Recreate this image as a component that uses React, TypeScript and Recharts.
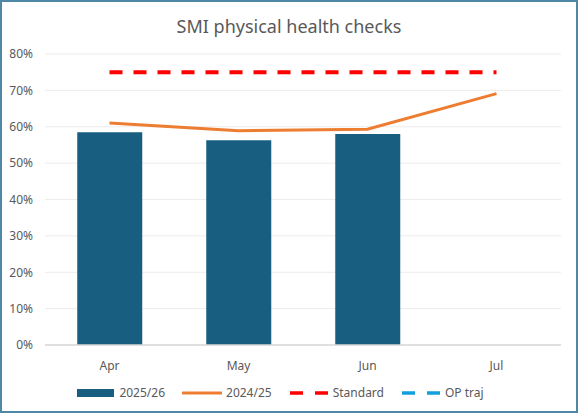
import React from "react";
import {
  ComposedChart,
  Bar,
  Line,
  XAxis,
  YAxis,
  CartesianGrid,
  Legend,
} from "recharts";

const months = ["Apr", "May", "Jun", "Jul"];
const current = [58.5, 56.3, 58.0, null];
const previous = [61.0, 58.9, 59.3, 69.1];
const standard = [75, 75, 75, 75];
const opTraj = [null, null, null, null];
const yTicks = [0, 10, 20, 30, 40, 50, 60, 70, 80];

const data = months.map((m, i) => ({
  month: m,
  current: current[i],
  previous: previous[i],
  standard: standard[i],
  opTraj: opTraj[i],
}));

const font = "'Noto Sans', 'Open Sans', sans-serif";

function LegendBox() {
  const item = { display: "flex", alignItems: "center", gap: 4 } as const;
  return (
    <div
      style={{
        display: "flex",
        justifyContent: "center",
        gap: 17,
        paddingTop: 9,
        fontFamily: font,
        fontSize: 12,
        color: "#595959",
      }}
    >
      <div style={item}>
        <svg width={38} height={10}>
          <rect x={0} y={1} width={37} height={8} fill="#175e80" />
        </svg>
        <span>2025/26</span>
      </div>
      <div style={item}>
        <svg width={40} height={10}>
          <line x1={1} y1={5} x2={39} y2={5} stroke="#ed7d31" strokeWidth={3} strokeLinecap="round" />
        </svg>
        <span>2024/25</span>
      </div>
      <div style={item}>
        <svg width={40} height={10}>
          <line x1={1} y1={5} x2={39} y2={5} stroke="#ff0000" strokeWidth={3.5} strokeDasharray="13 12" />
        </svg>
        <span>Standard</span>
      </div>
      <div style={item}>
        <svg width={40} height={10}>
          <line x1={1} y1={5} x2={39} y2={5} stroke="#11a0dc" strokeWidth={3.5} strokeDasharray="13 12" />
        </svg>
        <span>OP traj</span>
      </div>
    </div>
  );
}

export default function App() {
  return (
    <div
      style={{
        position: "absolute",
        top: 0,
        left: 0,
        width: 578,
        height: 413,
        boxSizing: "border-box",
        border: "2px solid #4f87a6",
        background: "#fff",
      }}
    >
      <div
        style={{
          position: "absolute",
          top: 12,
          left: 0,
          width: "100%",
          textAlign: "center",
          fontFamily: font,
          fontSize: 18,
          color: "#595959",
        }}
      >
        SMI physical health checks
      </div>
      <div style={{ position: "absolute", top: -2, left: -2 }}>
        <ComposedChart
          width={578}
          height={413}
          data={data}
          margin={{ top: 54, right: 17, bottom: 10, left: 0 }}
          barCategoryGap="25%"
        >
          <CartesianGrid vertical={false} stroke="#ececec" />
          <XAxis
            dataKey="month"
            axisLine={{ stroke: "#d9d9d9", strokeWidth: 1.5 }}
            tickLine={false}
            tick={{ fill: "#595959", fontSize: 12, fontFamily: font }}
            tickMargin={10}
            height={30}
          />
          <YAxis
            domain={[0, 80]}
            ticks={yTicks}
            tickFormatter={(v) => `${v}%`}
            axisLine={false}
            tickLine={false}
            tick={{ fill: "#595959", fontSize: 12, fontFamily: font }}
            width={45}
            tickMargin={6}
          />
          <Legend verticalAlign="bottom" height={28} content={() => <LegendBox />} />
          <Bar dataKey="current" fill="#175e80" isAnimationActive={false} />
          <Line
            dataKey="previous"
            stroke="#ed7d31"
            strokeWidth={3}
            dot={false}
            isAnimationActive={false}
          />
          <Line
            dataKey="standard"
            stroke="#ff0000"
            strokeWidth={4}
            strokeDasharray="13 11"
            dot={false}
            isAnimationActive={false}
          />
          <Line
            dataKey="opTraj"
            stroke="#11a0dc"
            strokeWidth={4}
            strokeDasharray="13 11"
            dot={false}
            isAnimationActive={false}
          />
        </ComposedChart>
      </div>
    </div>
  );
}
